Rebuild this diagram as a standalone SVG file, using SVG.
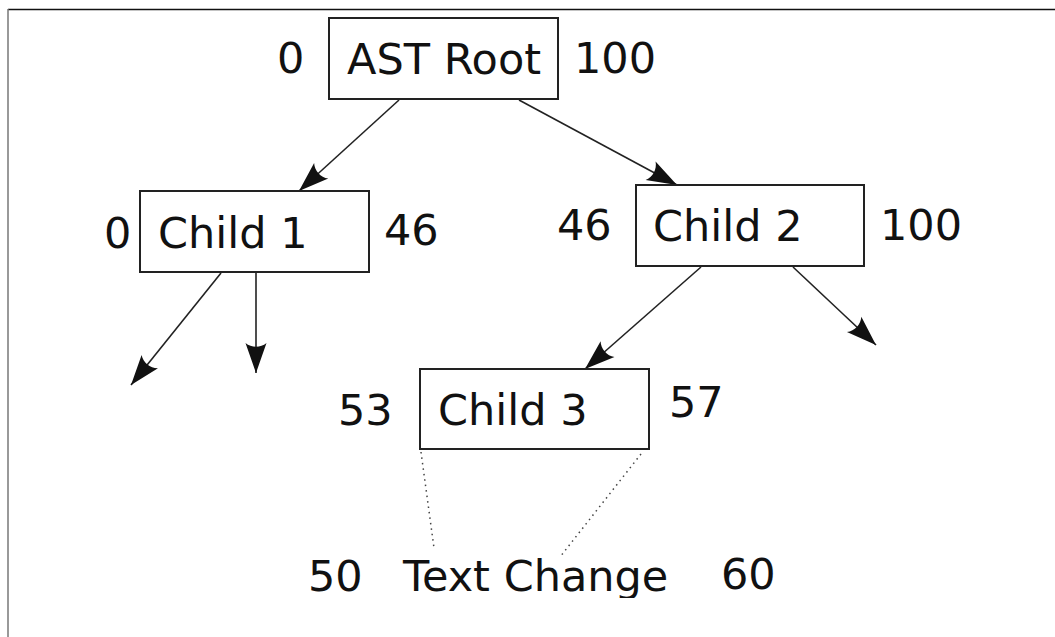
<svg xmlns="http://www.w3.org/2000/svg" width="1055" height="637" viewBox="0 0 1055 637">
<style>
.box{fill:#fff;stroke:#222;stroke-width:2}
.t{font-family:"DejaVu Sans",sans-serif;font-size:43px;fill:#111}
.edge{stroke:#222;stroke-width:1.6;fill:none}
.dot{stroke:#444;stroke-width:1.5;stroke-dasharray:1.5 4;fill:none}
</style>
<defs>
<marker id="ah" markerUnits="userSpaceOnUse" orient="auto" markerWidth="40" markerHeight="30" viewBox="-32 -15 34 30" refX="0" refY="0" overflow="visible">
<path d="M0,0 L-30,-10.5 C-25,-4.5 -25,4.5 -30,10.5 Z" fill="#111"/>
</marker>
<clipPath id="cut"><rect x="0" y="0" width="1055" height="598"/></clipPath>
</defs>
<rect width="1055" height="637" fill="#fff"/>
<g id="frame">
<line x1="8" y1="9.5" x2="1055" y2="9.5" stroke="#111" stroke-width="1.5"/>
<line x1="8" y1="9" x2="8" y2="637" stroke="#777" stroke-width="1.5"/>
</g>
<g id="connectors">
<line class="edge" x1="399" y1="100" x2="299" y2="191" marker-end="url(#ah)"/>
<line class="edge" x1="519" y1="100" x2="677" y2="185" marker-end="url(#ah)"/>
<line class="edge" x1="221" y1="273" x2="131" y2="385" marker-end="url(#ah)"/>
<line class="edge" x1="256" y1="273" x2="256" y2="373" marker-end="url(#ah)"/>
<line class="edge" x1="701" y1="267" x2="585" y2="369" marker-end="url(#ah)"/>
<line class="edge" x1="793" y1="267" x2="876" y2="345" marker-end="url(#ah)"/>
<line class="dot" x1="421" y1="452" x2="434" y2="548"/>
<line class="dot" x1="641" y1="454" x2="560" y2="557"/>
</g>
<g id="root">
<rect class="box" x="329" y="18" width="229" height="81"/>
<text class="t" x="347" y="74">AST Root</text>
<text class="t" x="277" y="73">0</text>
<text class="t" x="574" y="73">100</text>
</g>
<g id="child1">
<rect class="box" x="140" y="191" width="229" height="81"/>
<text class="t" x="158" y="248">Child 1</text>
<text class="t" x="104" y="248">0</text>
<text class="t" x="384" y="245">46</text>
</g>
<g id="child2">
<rect class="box" x="636" y="185" width="228" height="81"/>
<text class="t" x="653" y="241">Child 2</text>
<text class="t" x="557" y="240">46</text>
<text class="t" x="880" y="240">100</text>
</g>
<g id="child3">
<rect class="box" x="420" y="369" width="229" height="80"/>
<text class="t" x="438" y="425">Child 3</text>
<text class="t" x="338" y="425">53</text>
<text class="t" x="669" y="417">57</text>
</g>
<g id="textchange" clip-path="url(#cut)">
<text class="t" x="403" y="591">Text Change</text>
<text class="t" x="308" y="591">50</text>
<text class="t" x="721" y="589">60</text>
</g>
</svg>
